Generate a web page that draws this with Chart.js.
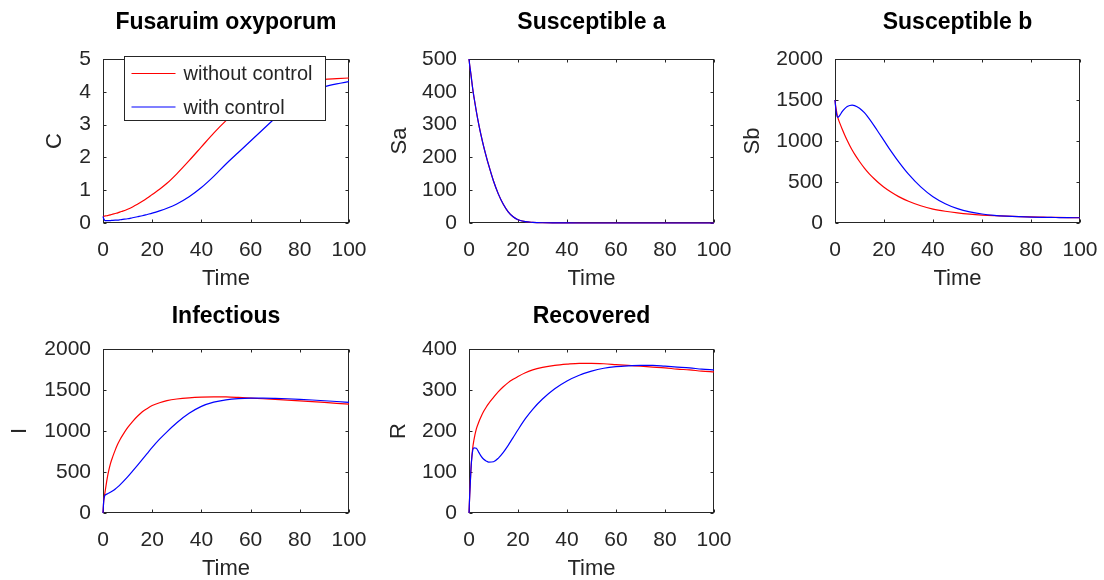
<!DOCTYPE html>
<html>
<head>
<meta charset="utf-8">
<title>Fusarium model</title>
<script src="https://cdn.jsdelivr.net/npm/chart.js@4.4.0/dist/chart.umd.min.js"></script>
<style>
  html, body { margin: 0; padding: 0; background: #fff; overflow: hidden; }
  #fig { position: relative; width: 1104px; height: 580px; }
  #fig canvas { position: absolute; }
</style>
</head>
<body>
<div id="fig"></div>
<script>
// shared time grid (days)
const time = [0, 0.3, 0.7, 1, 1.5, 2, 3, 4, 5, 6, 7, 8, 10, 12, 14, 16, 18, 20, 23, 26,
  30, 35, 40, 45, 50, 55, 60, 65, 70, 75, 80, 85, 90, 95, 100];

const cWithout = [0.20, 0.205, 0.21, 0.215, 0.22, 0.23, 0.25, 0.27, 0.29, 0.31, 0.34, 0.36, 0.42, 0.49, 0.57, 0.66, 0.76, 0.87, 1.03, 1.21,
  1.50, 1.90, 2.32, 2.74, 3.12, 3.46, 3.76, 3.98, 4.14, 4.24, 4.31, 4.35, 4.38, 4.40, 4.42];
const cWith = [0.20, 0.13, 0.08, 0.07, 0.07, 0.07, 0.075, 0.08, 0.085, 0.09, 0.10, 0.11, 0.13, 0.16, 0.19, 0.22, 0.26, 0.30, 0.37, 0.45,
  0.58, 0.80, 1.08, 1.42, 1.80, 2.15, 2.50, 2.85, 3.20, 3.55, 3.82, 4.02, 4.15, 4.24, 4.31];

const saWithout = [500, 480, 458, 440, 410, 385, 340, 300, 265, 233, 204, 177, 128, 88, 57, 34, 19, 10, 4, 2,
  0.8, 0.3, 0.1, 0.05, 0.02, 0.01, 0, 0, 0, 0, 0, 0, 0, 0, 0];
const saWith = [500, 480, 458, 440, 410, 385, 340, 300, 265, 233, 204, 177, 128, 88, 57, 34, 19, 10, 4, 2,
  0.8, 0.3, 0.1, 0.05, 0.02, 0.01, 0, 0, 0, 0, 0, 0, 0, 0, 0];

const sbWithout = [1500, 1420, 1350, 1300, 1255, 1215, 1140, 1070, 1005, 945, 890, 840, 750, 670, 600, 540, 485, 437, 375, 322,
  265, 210, 170, 143, 123, 108, 97, 89, 83, 78, 74, 71, 68, 66, 65];
const sbWith = [1500, 1400, 1320, 1290, 1295, 1315, 1360, 1395, 1420, 1433, 1437, 1432, 1400, 1345, 1270, 1185, 1095, 1005, 870, 745,
  595, 440, 320, 235, 175, 135, 110, 94, 84, 77, 72, 69, 67, 65, 64];

const iWithout = [0, 150, 230, 290, 385, 470, 600, 690, 770, 840, 900, 950, 1040, 1115, 1180, 1235, 1275, 1310, 1345, 1370,
  1390, 1405, 1413, 1416, 1415, 1409, 1401, 1393, 1385, 1376, 1367, 1358, 1348, 1338, 1328];
const iWith = [0, 150, 210, 222, 230, 238, 252, 270, 292, 318, 346, 376, 440, 510, 582, 655, 728, 800, 900, 990,
  1100, 1215, 1300, 1352, 1380, 1395, 1401, 1401, 1398, 1393, 1386, 1378, 1369, 1360, 1350];

const rWithout = [0, 45, 95, 125, 158, 178, 205, 222, 236, 248, 258, 267, 282, 296, 308, 318, 326, 333, 342, 349,
  355, 360, 363, 365, 365, 364, 362, 360, 358, 356, 354, 351, 349, 346, 344];
const rWith = [0, 45, 95, 125, 152, 159, 158, 148, 138, 131, 127, 124, 125, 134, 148, 165, 184, 203, 230, 253,
  278, 303, 322, 336, 346, 353, 357, 359, 360, 360, 358, 356, 354, 351, 349];

const seriesLabels = ["without control", "with control"];
const seriesColors = ["#ff0000", "#0000ff"];

const panelTitles = ["Fusaruim oxyporum", "Susceptible a", "Susceptible b", "Infectious", "Recovered"];
const panelYLabels = ["C", "Sa", "Sb", "I", "R"];
const panelYMax = [5, 500, 2000, 2000, 400];
const panelYStep = [1, 100, 500, 500, 100];
const timeMax = 100;
const timeStep = 20;

const panelSeries = [
  [cWithout, cWith],
  [saWithout, saWith],
  [sbWithout, sbWith],
  [iWithout, iWith],
  [rWithout, rWith]
];

// where each subplot sits in the figure (canvas origin, plot width, label offsets)
const layoutBoxes = [
  { left: 0,   top: 0,   plotW: 246, yLabelX: 55,   titleMid: 22.4, legend: true },
  { left: 366, top: 0,   plotW: 245, yLabelX: 33.5, titleMid: 22.4 },
  { left: 732, top: 0,   plotW: 245, yLabelX: 20.8, titleMid: 22.4 },
  { left: 0,   top: 290, plotW: 246, yLabelX: 20,   titleMid: 26.4 },
  { left: 366, top: 290, plotW: 245, yLabelX: 33.2, titleMid: 26.4 }
];

const FONT = "'Liberation Sans', Arial, sans-serif";
const AXIS_COLOR = "#262626";
const PLOT_LEFT = 103, PLOT_TOP = 59, PLOT_BOTTOM = 223, CANVAS_H = 290, RIGHT_PAD = 20;
const TICK_SIZE = 21, TITLE_SIZE = 23;

// octave style box with ticks pointing inwards
const boxFrame = {
  id: "boxFrame",
  beforeDatasetsDraw(chart) {
    const { ctx, chartArea: a, scales } = chart;
    const L = Math.round(a.left) + 0.5, R = Math.round(a.right) - 0.5;
    const T = Math.round(a.top) + 0.5, B = Math.round(a.bottom) - 0.5;
    const len = 3;
    ctx.save();
    ctx.strokeStyle = AXIS_COLOR;
    ctx.lineWidth = 1;
    ctx.strokeRect(L, T, R - L, B - T);
    ctx.beginPath();
    scales.x.ticks.forEach(t => {
      const px = Math.round(scales.x.getPixelForValue(t.value)) + 0.5;
      ctx.moveTo(px, B); ctx.lineTo(px, B - len);
      ctx.moveTo(px, T); ctx.lineTo(px, T + len);
    });
    scales.y.ticks.forEach(t => {
      const py = Math.round(scales.y.getPixelForValue(t.value)) + 0.5;
      ctx.moveTo(L, py); ctx.lineTo(L + len, py);
      ctx.moveTo(R, py); ctx.lineTo(R - len, py);
    });
    ctx.stroke();
    ctx.restore();
  }
};

// boxed legend inside the axes, like octave's legend()
const boxLegend = {
  id: "boxLegend",
  afterDraw(chart, args, opts) {
    if (!opts.show) return;
    const { ctx, chartArea: a } = chart;
    const x0 = Math.round(a.left) + 21.5, y0 = Math.round(a.top) - 2.5;
    const w = 201, h = 64;
    ctx.save();
    ctx.fillStyle = "#fff";
    ctx.fillRect(x0, y0, w, h);
    ctx.strokeStyle = AXIS_COLOR;
    ctx.lineWidth = 1;
    ctx.strokeRect(x0, y0, w, h);
    ctx.font = "20px " + FONT;
    ctx.textBaseline = "middle";
    seriesLabels.forEach((label, i) => {
      const y = y0 + 17 + i * 33.5;
      ctx.strokeStyle = seriesColors[i];
      ctx.lineWidth = 1.2;
      ctx.beginPath();
      ctx.moveTo(x0 + 7, y);
      ctx.lineTo(x0 + 51, y);
      ctx.stroke();
      ctx.fillStyle = AXIS_COLOR;
      ctx.fillText(label, x0 + 59, y + 1);
    });
    ctx.restore();
  }
};

function makePanel(idx) {
  const box = layoutBoxes[idx];
  const canvas = document.createElement("canvas");
  const w = PLOT_LEFT + box.plotW + RIGHT_PAD;
  canvas.width = w;
  canvas.height = CANVAS_H;
  canvas.style.left = box.left + "px";
  canvas.style.top = box.top + "px";
  canvas.style.width = w + "px";
  canvas.style.height = CANVAS_H + "px";
  document.getElementById("fig").appendChild(canvas);

  // "with control" is drawn over "without control", as in the original figure
  const datasets = panelSeries[idx].map((vals, s) => ({
    label: seriesLabels[s],
    data: time.map((t, k) => ({ x: t, y: vals[k] })),
    borderColor: seriesColors[s],
    backgroundColor: seriesColors[s],
    borderWidth: 1.2,
    pointRadius: 0,
    cubicInterpolationMode: "monotone",
    fill: false,
    clip: false,
    order: 1 - s
  }));

  const titleLH = TITLE_SIZE * 1.2;
  const titleTop = box.titleMid - titleLH / 2;
  const tickLH = TICK_SIZE * 1.2;

  new Chart(canvas, {
    type: "line",
    data: { datasets },
    plugins: [boxFrame, boxLegend],
    options: {
      responsive: false,
      animation: false,
      layout: { padding: { left: 0, right: RIGHT_PAD, top: 0, bottom: 0 } },
      plugins: {
        legend: { display: false },
        tooltip: { enabled: false },
        boxLegend: { show: !!box.legend },
        title: {
          display: true,
          text: panelTitles[idx],
          fullSize: false,
          color: "#000",
          font: { family: FONT, size: TITLE_SIZE, weight: "bold", lineHeight: 1.2 },
          padding: { top: titleTop, bottom: PLOT_TOP - titleLH - titleTop }
        }
      },
      scales: {
        x: {
          type: "linear",
          min: 0,
          max: timeMax,
          grid: { display: false, drawTicks: false },
          border: { display: false },
          ticks: {
            stepSize: timeStep,
            padding: 27.4 - tickLH / 2,
            color: AXIS_COLOR,
            maxRotation: 0,
            font: { family: FONT, size: TICK_SIZE, lineHeight: 1.2 },
            callback: v => String(v)
          },
          title: {
            display: true,
            text: "Time",
            color: AXIS_COLOR,
            font: { family: FONT, size: 22, lineHeight: 1 },
            padding: { top: 0, bottom: 0 }
          },
          afterFit: s => {
            s.height = CANVAS_H - PLOT_BOTTOM;
            s.paddingLeft = 0;
            s.paddingRight = 0;
          }
        },
        y: {
          type: "linear",
          min: 0,
          max: panelYMax[idx],
          grid: { display: false, drawTicks: false },
          border: { display: false },
          ticks: {
            stepSize: panelYStep[idx],
            padding: 12,
            color: AXIS_COLOR,
            font: { family: FONT, size: TICK_SIZE },
            callback: v => String(v)
          },
          title: {
            display: true,
            text: panelYLabels[idx],
            color: AXIS_COLOR,
            font: { family: FONT, size: 22, lineHeight: 1 },
            padding: { top: box.yLabelX - 11, bottom: 0 }
          },
          afterFit: s => {
            s.width = PLOT_LEFT;
            s.paddingTop = 0;
            s.paddingBottom = 0;
          }
        }
      }
    }
  });
}

document.addEventListener("DOMContentLoaded", () => {
  panelTitles.forEach((t, i) => makePanel(i));
});
</script>
</body>
</html>
